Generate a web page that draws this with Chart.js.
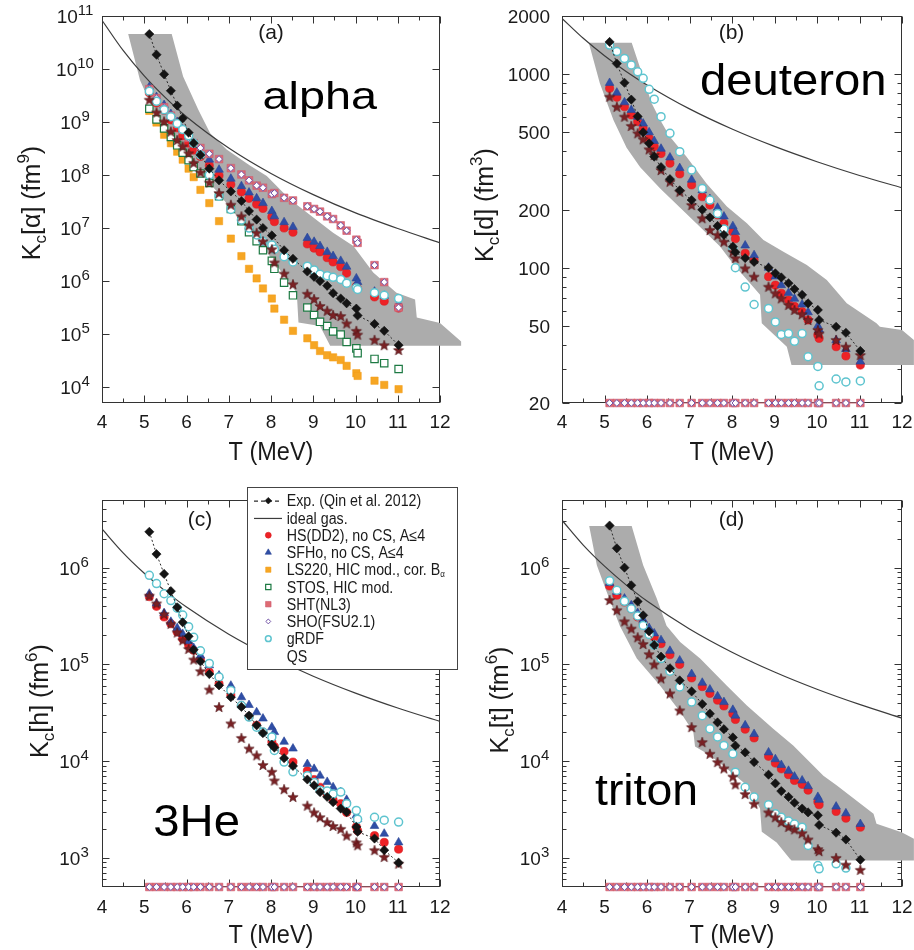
<!DOCTYPE html>
<html>
<head>
<meta charset="utf-8">
<title>Chemical equilibrium constants of light clusters</title>
<script src="https://cdn.jsdelivr.net/npm/chart.js@4.4.1/dist/chart.umd.min.js"></script>
<style>
  html, body { margin: 0; padding: 0; background: #ffffff; }
  #wrap { position: relative; width: 914px; height: 950px; overflow: hidden; background: #fff; }
  canvas { position: absolute; display: block; }
</style>
</head>
<body>
<div id="wrap">
  <canvas id="panelA" width="462" height="472" style="left:0;top:0;width:462px;height:472px"></canvas>
  <canvas id="panelB" width="454" height="472" style="left:460px;top:0;width:454px;height:472px"></canvas>
  <canvas id="panelC" width="462" height="478" style="left:0;top:472px;width:462px;height:478px"></canvas>
  <canvas id="panelD" width="454" height="478" style="left:460px;top:472px;width:454px;height:478px"></canvas>
</div>
<script>
// ---------------------------------------------------------------------------
// Data: temperatures in MeV, constants stored as log10 K_c (fm^3(A-1))
// ---------------------------------------------------------------------------
const T_MeV = [5.12, 5.29, 5.47, 5.63, 5.78, 5.91, 6.05, 6.17, 6.33, 6.54,
               6.77, 7.05, 7.30, 7.48, 7.66, 7.81, 8.02, 8.08, 8.31, 8.52,
               8.86, 9.02, 9.16, 9.33, 9.47, 9.65, 9.79, 10.02, 10.05, 10.45,
               10.68, 11.02];

// ideal-gas reference curves
const T_ideal = [4, 4.5, 5, 5.5, 6, 7, 8, 9, 10, 11, 12];
const lgIdeal_alpha = [10.92, 10.35, 9.87, 9.46, 9.10, 8.51, 8.03, 7.63, 7.285, 6.99, 6.72];
const lgIdeal_d     = [3.289, 3.186, 3.096, 3.016, 2.945, 2.821, 2.717, 2.627, 2.548, 2.477, 2.413];
const lgIdeal_h     = [6.40, 6.153, 5.942, 5.757, 5.592, 5.312, 5.078, 4.878, 4.703, 4.549, 4.41];
const lgIdeal_t     = [6.49, 6.233, 6.015, 5.824, 5.654, 5.366, 5.126, 4.921, 4.743, 4.586, 4.444];

// alpha
const lgExp_alpha   = [10.66,10.27,9.90,9.59,9.31,9.07,8.80,8.60,8.38,8.12, 7.90,7.69,7.51,7.32,7.16,7.00,6.86,null,6.58,6.42, 6.18,6.08,6.00,5.91,5.77,5.67,5.58,5.48,5.35,5.19, 5.06,4.79];
const lgHS_alpha    = [9.55,9.36,9.22,9.04,8.89,8.74,8.60,8.47,8.35,8.18, 7.99,7.82,7.68,7.56,7.45,7.37,7.21,7.12,7.00,6.92, 6.70,6.62,6.55,6.44,6.36,6.27,6.15,5.90,5.85,5.70, 5.62,5.49];
const lgSFHo_alpha  = [9.66,9.47,9.32,9.15,9.00,8.86,8.72,8.58,8.46,8.29, 8.10,7.93,7.79,7.67,7.56,7.47,7.32,7.22,7.11,7.02, 6.81,6.74,6.66,6.55,6.47,6.38,6.27,6.05,5.98,5.80, 5.72,5.57];
const lgLS220_alpha = [9.21,8.99,8.76,8.60,8.44,8.29,8.12,7.96,7.72,7.47, 7.13,6.80,6.47,6.23,6.05,5.86,5.67,5.48,5.27,5.06, 4.92,4.79,4.68,4.60,4.56,4.51,4.40,4.26,4.21,4.12, 4.04,3.96];
const lgSTOS_alpha  = [9.25,9.05,8.88,8.72,8.56,8.42,8.28,8.15,8.03,7.85, 7.60,7.36,7.13,6.92,6.75,6.58,6.38,6.23,5.97,5.73, 5.50,5.36,5.23,5.15,5.05,4.99,4.85,4.73,4.64,4.53, 4.45,4.34];
const lgSHT_alpha   = [9.62,9.45,9.28,9.12,8.98,8.85,8.70,8.60,8.51,8.40, 8.30,8.13,8.01,7.90,7.80,7.76,7.64,7.66,7.57,7.52, 7.41,7.36,7.31,7.22,7.17,7.05,6.95,6.78,6.72,6.30, 5.98,5.50];
const lgSHO_alpha   = [9.62,9.45,9.28,9.12,8.98,8.85,8.70,8.60,8.51,8.40, 8.30,8.13,8.01,7.90,7.80,7.76,7.64,7.66,7.57,7.52, 7.41,7.36,7.31,7.22,7.17,7.05,6.95,6.78,6.72,6.30, 5.98,5.50];
const lgGRDF_alpha  = [9.58,9.39,9.23,9.10,8.97,8.86,8.74,8.60,8.38,8.00, 7.60,7.35,7.15,7.00,6.87,6.75,6.68,6.60,6.46,6.36, 6.28,6.21,6.13,6.10,6.07,6.03,5.96,5.87,5.84,5.78, 5.73,5.67];
const lgQS_alpha    = [9.42,9.18,9.01,8.82,8.66,8.54,8.41,8.23,8.05,7.86, 7.66,7.44,7.22,7.05,6.91,6.75,6.60,6.35,6.14,5.94, 5.76,5.66,5.53,5.44,5.36,5.34,5.20,5.06,4.99,4.89, 4.79,4.70];

// deuteron
const lgExp_d  = [3.167,3.055,2.956,2.869,2.782,2.700,2.643,2.574,2.520,2.458, 2.400,2.350,2.300,2.260,2.216,2.170,2.109,2.080,2.050,2.030, 2.000,1.971,1.950,1.920,1.890,1.860,1.816,1.782,1.730,1.695, 1.664,1.570];
const lgHS_d   = [2.927,2.881,2.832,2.790,2.755,2.720,2.669,2.626,2.590,2.540, 2.485,2.428,2.367,2.324,2.273,2.230,2.186,2.150,2.075,2.040, 1.954,1.910,1.868,1.833,1.800,1.773,1.730,1.652,1.635,1.592, 1.544,1.497];
const lgSFHo_d = [2.955,2.905,2.855,2.815,2.780,2.745,2.700,2.655,2.615,2.570, 2.515,2.455,2.400,2.355,2.310,2.265,2.215,2.185,2.115,2.065, 2.000,1.955,1.910,1.870,1.840,1.810,1.770,1.700,1.680,1.625, 1.580,1.515];
const lgQS_d   = [2.884,2.832,2.781,2.733,2.695,2.664,2.612,2.583,2.505,2.445, 2.393,2.324,2.256,2.195,2.169,2.135,2.083,2.050,1.997,1.954, 1.902,1.868,1.842,1.808,1.782,1.760,1.730,1.678,1.660,1.627, 1.592,1.549];
const lgGRDF_d = [3.151,3.117,3.082,3.048,3.013,2.979,2.922,2.871,2.781,2.695, 2.600,2.505,2.410,2.350,2.280,2.200,2.100,2.000,1.900,1.810, 1.790,1.720,1.655,1.660,1.620,1.660,1.540,1.490,1.390,1.425, 1.410,1.415];
// SHT / SHO give no deuterons: drawn on the lower frame
const lgFloor_d = [1.30103,1.30103,1.30103,1.30103,1.30103,1.30103,1.30103,1.30103,1.30103,1.30103, 1.30103,1.30103,1.30103,1.30103,1.30103,1.30103,1.30103,1.30103,1.30103,1.30103, 1.30103,1.30103,1.30103,1.30103,1.30103,1.30103,1.30103,1.30103,1.30103,1.30103, 1.30103,1.30103];

// helion (3He)
const lgExp_h  = [6.37,6.14,5.935,5.757,5.59,5.435,5.29,5.15,5.03,4.90, 4.783,4.66,4.56,4.47,4.37,4.29,4.17,4.14,4.03,3.95, 3.81,3.75,3.68,3.63,3.576,3.51,3.473,3.32,3.27,3.20, 3.08,2.95];
const lgHS_h   = [5.70,5.60,5.49,5.42,5.335,5.265,5.20,5.145,5.05,4.92, 4.80,4.68,4.575,4.46,4.37,4.30,4.20,4.15,4.10,3.99, 3.90,3.81,3.73,3.66,3.60,3.56,3.47,3.32,3.28,3.23, 3.16,3.09];
const lgSFHo_h = [5.73,5.63,5.53,5.44,5.375,5.315,5.24,5.17,5.09,4.99, 4.885,4.78,4.66,4.58,4.505,4.44,4.35,4.30,4.20,4.13, 3.97,3.92,3.85,3.785,3.73,3.68,3.60,3.44,3.40,3.33, 3.25,3.16];
const lgQS_h   = [5.71,5.63,5.52,5.42,5.33,5.25,5.16,5.05,4.93,4.74, 4.56,4.39,4.24,4.13,4.06,3.96,3.89,3.80,3.71,3.63, 3.54,3.47,3.42,3.37,3.33,3.30,3.23,3.16,3.13,3.08, 3.01,2.94];
const lgGRDF_h = [5.92,5.835,5.73,5.66,5.58,5.51,5.39,5.28,5.14,5.01, 4.87,4.73,4.575,4.455,4.35,4.30,4.25,4.11,3.99,3.89, 3.85,3.78,3.70,3.69,3.66,3.68,3.56,3.49,3.40,3.42, 3.39,3.37];
const lgFloor_h = [2.69897,2.69897,2.69897,2.69897,2.69897,2.69897,2.69897,2.69897,2.69897,2.69897, 2.69897,2.69897,2.69897,2.69897,2.69897,2.69897,2.69897,2.69897,2.69897,2.69897, 2.69897,2.69897,2.69897,2.69897,2.69897,2.69897,2.69897,2.69897,2.69897,2.69897, 2.69897,2.69897];

// triton
const lgExp_t  = [6.435,6.20,6.00,5.817,5.65,5.507,5.34,5.20,5.08,4.96, 4.834,4.72,4.59,4.49,4.40,4.33,4.245,4.16,4.09,3.99, 3.86,3.77,3.69,3.63,3.57,3.51,3.47,3.44,3.34,3.26, 3.19,2.98];
const lgHS_t   = [5.81,5.715,5.645,5.576,5.49,5.42,5.335,5.283,5.214,5.10, 5.00,4.86,4.77,4.70,4.63,4.57,4.49,4.43,4.33,4.24, 4.05,3.98,3.92,3.86,3.80,3.76,3.70,3.58,3.55,3.48, 3.41,3.317];
const lgSFHo_t = [5.84,5.75,5.68,5.61,5.53,5.46,5.375,5.32,5.25,5.14, 5.04,4.90,4.81,4.74,4.67,4.61,4.53,4.47,4.37,4.28, 4.09,4.02,3.96,3.90,3.84,3.80,3.74,3.63,3.60,3.53, 3.46,3.35];
const lgQS_t   = [5.665,5.56,5.445,5.37,5.28,5.21,5.105,5.00,4.855,4.70, 4.524,4.352,4.197,4.076,3.99,3.925,3.84,3.76,3.66,3.56, 3.47,3.42,3.37,3.32,3.295,3.255,3.19,3.09,3.07,3.00, 2.93,2.876];
const lgGRDF_t = [5.865,5.766,5.652,5.576,5.50,5.403,5.31,5.20,5.06,4.93, 4.766,4.61,4.47,4.334,4.25,4.162,4.076,3.886,3.73,3.628, 3.55,3.455,3.42,3.38,3.35,3.317,3.128,2.92,2.887,2.938, 2.895,null];
const lgFloor_t = [2.69897,2.69897,2.69897,2.69897,2.69897,2.69897,2.69897,2.69897,2.69897,2.69897, 2.69897,2.69897,2.69897,2.69897,2.69897,2.69897,2.69897,2.69897,2.69897,2.69897, 2.69897,2.69897,2.69897,2.69897,2.69897,2.69897,2.69897,2.69897,2.69897,2.69897, 2.69897,2.69897];

// experimental uncertainty bands (closed outlines: T, log10 K_c)
const bandT_alpha  = [4.62,5.65,5.92,6.28,6.56,6.95,7.50,7.90,8.45,9.47,9.95,10.42,10.97,11.41,11.45,12.0,12.5, 12.5,9.40,9.16,8.65,8.61,7.90,7.27,6.71,6.16,5.69,5.29,4.90];
const bandLg_alpha = [10.66,10.66,9.86,9.23,8.79,8.48,8.18,7.98,7.54,6.91,6.66,6.16,5.78,5.65,5.31,5.21,4.86, 4.78,4.78,5.15,5.22,5.78,6.55,7.15,7.70,8.20,8.60,9.10,9.79];
const bandT_d  = [4.63,5.64,5.88,6.11,6.31,6.54,6.93,7.40,7.88,8.35,8.74,9.21,9.76,10.23,10.70,11.40,11.48,12.0,12.28, 12.28,9.40,9.29,8.70,8.66,8.03,7.72,7.25,6.78,6.31,5.84,5.52,5.21,4.89];
const bandLg_d = [3.163,3.163,3.005,2.850,2.764,2.677,2.574,2.436,2.316,2.230,2.143,2.083,2.014,1.937,1.816,1.713,1.695,1.678,1.627, 1.497,1.497,1.592,1.713,1.860,2.020,2.110,2.210,2.310,2.410,2.520,2.620,2.764,2.953];
const bandT_t  = [4.64,5.64,5.91,6.23,6.46,6.78,7.25,7.88,8.35,8.97,9.44,9.91,10.15,10.46,11.33,11.40,11.99,12.28, 12.28,9.40,9.36,9.05,8.70,8.66,8.35,7.88,7.48,7.13,7.09,6.78,6.31,5.76,5.36,5.05,4.82];
const bandLg_t = [6.431,6.431,6.024,5.68,5.40,5.23,5.06,4.78,4.576,4.335,4.162,3.955,3.85,3.75,3.455,3.352,3.266,3.197, 2.972,2.972,2.99,3.16,3.27,3.51,3.75,3.92,4.06,4.15,4.30,4.51,4.78,5.06,5.40,5.75,6.024];

// axis ticks
const xTickLabels = [4, 5, 6, 7, 8, 9, 10, 11, 12];
const yExp_alpha = [4, 5, 6, 7, 8, 9, 10, 11];
const yLabels_d = [20, 50, 100, 200, 500, 1000, 2000];
const yMinor_d = [30, 40, 60, 70, 80, 90, 300, 400, 600, 700, 800, 900];
const yExp_ht = [3, 4, 5, 6];
const yMinor_ht = [600, 700, 800, 900, 2e3, 3e3, 4e3, 5e3, 6e3, 7e3, 8e3, 9e3, 2e4, 3e4, 4e4, 5e4, 6e4, 7e4, 8e4, 9e4,
                   2e5, 3e5, 4e5, 5e5, 6e5, 7e5, 8e5, 9e5, 2e6, 3e6, 4e6];

// ---------------------------------------------------------------------------
const FONT = '"Liberation Sans", Arial, Helvetica, sans-serif';

function makeStar(r, fill, stroke) {
  const s = Math.ceil(2 * r + 3);
  const c = document.createElement('canvas');
  c.width = s; c.height = s;
  const g = c.getContext('2d');
  g.translate(s / 2, s / 2 + 0.5);
  g.beginPath();
  for (let i = 0; i < 10; i++) {
    const a = -Math.PI / 2 + i * Math.PI / 5;
    const rr = (i % 2) ? r * 0.42 : r;
    g.lineTo(rr * Math.cos(a), rr * Math.sin(a));
  }
  g.closePath();
  g.fillStyle = fill; g.fill();
  g.strokeStyle = stroke; g.lineWidth = 0.6; g.stroke();
  return c;
}
const starImg = makeStar(5.4, '#7a2225', '#4a0d10');

const SERIES = {
  exp:   { label: 'Exp. (Qin et al. 2012)', order: 0, pointStyle: 'rectRot', radius: 4.6, fill: '#141414', stroke: '#141414', bw: 0.6 },
  ideal: { label: 'ideal gas.', order: 9 },
  HS:    { label: 'HS(DD2), no CS, A\u22644', order: 6, pointStyle: 'circle', radius: 4.1, fill: '#ee2226', stroke: '#d81c20', bw: 0.6 },
  SFHo:  { label: 'SFHo, no CS, A\u22644', order: 5, pointStyle: 'triangle', radius: 5, fill: '#2f4ea6', stroke: '#2a4596', bw: 0.6 },
  LS220: { label: 'LS220, HIC mod., cor. B', sub: '\u03b1', order: 8, pointStyle: 'rect', radius: 5.2, fill: '#f6a623', stroke: '#f29b14', bw: 0.5 },
  STOS:  { label: 'STOS, HIC mod.', order: 7, pointStyle: 'rect', radius: 5.2, fill: '#ffffff', stroke: '#1d7a43', bw: 1.2 },
  SHT:   { label: 'SHT(NL3)', order: 4, pointStyle: 'rect', radius: 5.4, fill: '#de6b72', stroke: '#cf5a72', bw: 0.6 },
  SHO:   { label: 'SHO(FSU2.1)', order: 3, pointStyle: 'rectRot', radius: 3.4, fill: '#ffffff', stroke: '#7456a8', bw: 1 },
  gRDF:  { label: 'gRDF', order: 2, pointStyle: 'circle', radius: 4, fill: '#ffffff', stroke: '#5ec4cf', bw: 1.5 },
  QS:    { label: 'QS', order: 1, pointStyle: starImg, radius: 5.4 }
};
const LEGEND_ROWS = ['exp', 'ideal', 'HS', 'SFHo', 'LS220', 'STOS', 'SHT', 'SHO', 'gRDF', 'QS'];

const toPoints = (xs, lgs) => xs.map((x, i) => ({ x: x, y: lgs[i] == null ? null : Math.pow(10, lgs[i]) }));

function markers(key, lgs, extra) {
  const s = SERIES[key];
  return Object.assign({
    label: s.label, data: toPoints(T_MeV, lgs), order: s.order,
    pointStyle: s.pointStyle, pointRadius: s.radius,
    pointBackgroundColor: s.fill, pointBorderColor: s.stroke, pointBorderWidth: s.bw,
    showLine: false
  }, extra || {});
}
function expSet(lgs) {
  return markers('exp', lgs, { showLine: true, spanGaps: true, borderColor: '#2a2a2a', borderWidth: 1, borderDash: [2, 2.2] });
}
function idealSet(lgs) {
  return { label: SERIES.ideal.label, data: toPoints(T_ideal, lgs), order: 9, showLine: true,
           pointRadius: 0, borderColor: '#3c3c3c', borderWidth: 1.2, cubicInterpolationMode: 'monotone' };
}
function bandSet(ts, lgs) {
  return { label: 'band', data: toPoints(ts, lgs), order: 10, showLine: false, pointRadius: 0, bandColor: '#acacac' };
}
function floorSets(lgs) {
  return [
    markers('SHT', lgs, { clip: false, showLine: true, borderColor: '#d46c7c', borderWidth: 1 }),
    markers('SHO', lgs, { clip: false })
  ];
}

// ---------------------------------------------------------------------------
// text helper: runs of text with own sizes and vertical shifts
function drawRich(ctx, parts, x, y, o) {
  o = o || {};
  ctx.save();
  ctx.translate(x, y);
  if (o.rotate) ctx.rotate(o.rotate);
  ctx.scale(o.sx || 1, 1);
  let w = 0;
  for (const p of parts) { ctx.font = p.s + 'px ' + FONT; w += ctx.measureText(p.t).width; }
  let cx = o.align === 'center' ? -w / 2 : o.align === 'right' ? -w : 0;
  ctx.fillStyle = o.color || '#1a1a1a';
  ctx.textBaseline = 'alphabetic';
  ctx.textAlign = 'left';
  for (const p of parts) {
    ctx.font = p.s + 'px ' + FONT;
    ctx.fillText(p.t, cx, p.dy || 0);
    cx += ctx.measureText(p.t).width;
  }
  ctx.restore();
}

function yTitleParts(sym, pow) {
  return [{ t: 'K', s: 25 }, { t: 'c', s: 17, dy: 6 }, { t: '[' + sym + '] (fm', s: 25 }, { t: String(pow), s: 17, dy: -11 }, { t: ')', s: 25 }];
}

const DECO = {
  panelA: { pow: yExp_alpha, powCX: 75, majors: yExp_alpha.map(e => Math.pow(10, e)), minors: [],
            xLabelY: 428, xTitle: [271, 460], yTitle: [39.5, 203, '\u03b1', 9],
            tag: ['(a)', 271, 39], big: { text: 'alpha', x: 262.5, y: 108.5, size: 39, sx: 1.2 } },
  panelB: { labels: yLabels_d, majors: yLabels_d, minors: yMinor_d,
            xLabelY: 428, xTitle: [272, 460], yTitle: [33, 205, 'd', 3],
            tag: ['(b)', 271.5, 39], big: { text: 'deuteron', x: 240, y: 95, size: 45, sx: 1.05 } },
  panelC: { pow: yExp_ht, powCX: 74, majors: yExp_ht.map(e => Math.pow(10, e)), minors: yMinor_ht,
            xLabelY: 441, xTitle: [271, 471], yTitle: [48, 229, 'h', 6],
            tag: ['(c)', 200, 54], big: { text: '3He', x: 153.3, y: 363.7, size: 45, sx: 1.05 }, legend: true },
  panelD: { pow: yExp_ht, powCX: 74.5, majors: yExp_ht.map(e => Math.pow(10, e)), minors: yMinor_ht,
            xLabelY: 441, xTitle: [272, 471], yTitle: [48, 228, 't', 6],
            tag: ['(d)', 271.5, 54], big: { text: 'triton', x: 135, y: 333, size: 45, sx: 1.03 } }
};

function drawFrameAndTicks(chart, cfg) {
  const { ctx, chartArea: a } = chart;
  const xs = chart.scales.x, ys = chart.scales.y;
  const L = Math.round(a.left) + 0.5, R = Math.round(a.right) - 0.5;
  const Tp = Math.round(a.top) + 0.5, B = Math.round(a.bottom) - 0.5;
  ctx.save();
  ctx.strokeStyle = '#333'; ctx.lineWidth = 1;
  ctx.strokeRect(L, Tp, R - L, B - Tp);
  ctx.beginPath();
  for (let k = 0; k <= 16; k++) {
    const v = 4 + k * 0.5;
    const px = Math.round(xs.getPixelForValue(v)) + 0.5;
    const len = (k % 2 === 0) ? 7 : 4;
    ctx.moveTo(px, B); ctx.lineTo(px, B - len);
    ctx.moveTo(px, Tp); ctx.lineTo(px, Tp + len);
  }
  const yt = cfg.majors.map(v => [v, 7]).concat(cfg.minors.map(v => [v, 4]));
  for (const [v, len] of yt) {
    const py = Math.round(ys.getPixelForValue(v)) + 0.5;
    ctx.moveTo(L, py); ctx.lineTo(L + len, py);
    ctx.moveTo(R, py); ctx.lineTo(R - len, py);
  }
  ctx.stroke();
  ctx.restore();
}

function drawBands(chart) {
  const ctx = chart.ctx;
  chart.data.datasets.forEach((ds, i) => {
    if (!ds.bandColor) return;
    const pts = chart.getDatasetMeta(i).data;
    ctx.save();
    ctx.beginPath();
    pts.forEach((p, j) => (j ? ctx.lineTo(p.x, p.y) : ctx.moveTo(p.x, p.y)));
    ctx.closePath();
    ctx.fillStyle = ds.bandColor;
    ctx.fill();
    ctx.restore();
  });
}

function drawLabels(chart, cfg) {
  const { ctx, chartArea: a } = chart;
  const xs = chart.scales.x, ys = chart.scales.y;
  for (const v of xTickLabels) {
    drawRich(ctx, [{ t: String(v), s: 19 }], xs.getPixelForValue(v), cfg.xLabelY, { align: 'center' });
  }
  if (cfg.pow) {
    for (const e of cfg.pow) {
      const py = ys.getPixelForValue(Math.pow(10, e));
      drawRich(ctx, [{ t: '10', s: 19 }, { t: String(e), s: 15, dy: -8 }], cfg.powCX, py + 7, { align: 'center' });
    }
  } else {
    for (const v of cfg.labels) {
      drawRich(ctx, [{ t: String(v), s: 19 }], a.left - 12, ys.getPixelForValue(v) + 7, { align: 'right' });
    }
  }
  drawRich(ctx, [{ t: 'T (MeV)', s: 25 }], cfg.xTitle[0], cfg.xTitle[1], { align: 'center', sx: 0.94 });
  drawRich(ctx, yTitleParts(cfg.yTitle[2], cfg.yTitle[3]), cfg.yTitle[0], cfg.yTitle[1], { align: 'center', rotate: -Math.PI / 2 });
  drawRich(ctx, [{ t: cfg.tag[0], s: 21 }], cfg.tag[1], cfg.tag[2], { align: 'center' });
  drawRich(ctx, [{ t: cfg.big.text, s: cfg.big.size }], cfg.big.x, cfg.big.y, { sx: cfg.big.sx, color: '#000' });
}

function drawLegend(ctx) {
  const box = { x0: 247, y0: 15, x1: 458, y1: 198 };
  const rowY0 = 28.7, dy = 17.25, mx = 268.3, tx = 286.7;
  ctx.save();
  ctx.fillStyle = '#ffffff';
  ctx.fillRect(box.x0, box.y0, box.x1 - box.x0, box.y1 - box.y0);
  ctx.strokeStyle = '#444'; ctx.lineWidth = 1;
  ctx.strokeRect(box.x0 + 0.5, box.y0 + 0.5, box.x1 - box.x0 - 1, box.y1 - box.y0 - 1);
  LEGEND_ROWS.forEach((key, i) => {
    const s = SERIES[key];
    const y = rowY0 + i * dy;
    if (key === 'exp' || key === 'ideal') {
      ctx.save();
      ctx.strokeStyle = key === 'exp' ? '#2a2a2a' : '#3c3c3c';
      ctx.lineWidth = 1.2;
      if (key === 'exp') ctx.setLineDash([4, 3]);
      ctx.beginPath(); ctx.moveTo(254, y + 0.5); ctx.lineTo(282, y + 0.5); ctx.stroke();
      ctx.restore();
    }
    if (key !== 'ideal' && key !== 'QS') {
      ctx.save();
      ctx.fillStyle = s.fill; ctx.strokeStyle = s.stroke; ctx.lineWidth = s.bw;
      Chart.helpers.drawPoint(ctx, { pointStyle: s.pointStyle, radius: s.radius * 0.72, rotation: 0, borderWidth: s.bw }, mx, y);
      ctx.restore();
    }
    const parts = [{ t: s.label, s: 16 }];
    if (s.sub) parts.push({ t: s.sub, s: 9, dy: 2 });
    drawRich(ctx, parts, tx, y + 5.6, { sx: 0.89 });
  });
  ctx.restore();
}

const decoPlugin = {
  id: 'deco',
  beforeDatasetsDraw(chart) {
    const cfg = DECO[chart.canvas.id];
    if (!cfg) return;
    drawFrameAndTicks(chart, cfg);
    drawBands(chart);
  },
  afterDatasetsDraw(chart) {
    const cfg = DECO[chart.canvas.id];
    if (!cfg) return;
    drawLabels(chart, cfg);
    if (cfg.legend) drawLegend(chart.ctx);
  }
};

function makeChart(id, datasets, ymin, ymax, padding) {
  return new Chart(document.getElementById(id), {
    type: 'scatter',
    data: { datasets: datasets },
    options: {
      responsive: false,
      animation: false,
      events: [],
      layout: { padding: padding },
      scales: {
        x: { type: 'linear', min: 4, max: 12, display: false },
        y: { type: 'logarithmic', min: ymin, max: ymax, display: false }
      },
      plugins: { legend: { display: false }, tooltip: { enabled: false } }
    },
    plugins: [decoPlugin]
  });
}

// (a) alpha
makeChart('panelA', [
  expSet(lgExp_alpha),
  markers('QS', lgQS_alpha),
  markers('gRDF', lgGRDF_alpha),
  markers('SHO', lgSHO_alpha),
  markers('SHT', lgSHT_alpha),
  markers('SFHo', lgSFHo_alpha),
  markers('HS', lgHS_alpha),
  markers('STOS', lgSTOS_alpha),
  markers('LS220', lgLS220_alpha),
  idealSet(lgIdeal_alpha),
  bandSet(bandT_alpha, bandLg_alpha)
], 5000, 1e11, { left: 102, top: 16, right: 22, bottom: 69 });

// (b) deuteron
makeChart('panelB', [
  expSet(lgExp_d),
  markers('QS', lgQS_d),
  markers('gRDF', lgGRDF_d),
  ...floorSets(lgFloor_d),
  markers('SFHo', lgSFHo_d),
  markers('HS', lgHS_d),
  idealSet(lgIdeal_d),
  bandSet(bandT_d, bandLg_d)
], 20, 2000, { left: 102, top: 16, right: 12, bottom: 69 });

// (c) helion
makeChart('panelC', [
  expSet(lgExp_h),
  markers('QS', lgQS_h),
  markers('gRDF', lgGRDF_h),
  ...floorSets(lgFloor_h),
  markers('SFHo', lgSFHo_h),
  markers('HS', lgHS_h),
  idealSet(lgIdeal_h)
], 500, 5e6, { left: 102, top: 28, right: 22, bottom: 63 });

// (d) triton
makeChart('panelD', [
  expSet(lgExp_t),
  markers('QS', lgQS_t),
  markers('gRDF', lgGRDF_t),
  ...floorSets(lgFloor_t),
  markers('SFHo', lgSFHo_t),
  markers('HS', lgHS_t),
  idealSet(lgIdeal_t),
  bandSet(bandT_t, bandLg_t)
], 500, 5e6, { left: 102, top: 28, right: 12, bottom: 63 });
</script>
</body>
</html>
